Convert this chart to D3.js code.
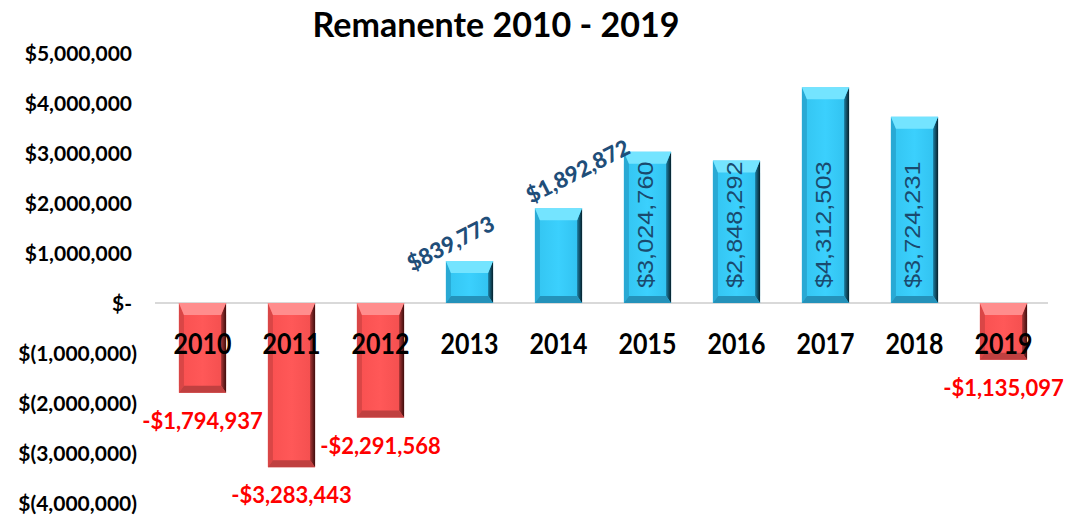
<!DOCTYPE html>
<html>
<head>
<style>
  body { margin: 0; background: #fff; }
  svg { display: block; }
  .title { font-family: Lato, "Open Sans", sans-serif; font-weight: bold; font-size: 34px; text-anchor: middle; }
  .y-axis text { font-family: Lato, sans-serif; font-weight: bold; font-size: 21px; fill: #000; }
  .year { font-family: Lato, sans-serif; font-weight: bold; font-size: 25px; text-anchor: middle; }
  .neg-label { font-family: Lato, sans-serif; font-weight: bold; font-size: 22px; fill: #ff0000; text-anchor: middle; }
  .slant-label { font-family: Lato, sans-serif; font-weight: 900; font-size: 22px; fill: #1f4e79; text-anchor: middle; }
  .in-label { font-family: "Liberation Sans", Arial, sans-serif; font-size: 22px; fill: #1a4a6e; }
</style>
</head>
<body>
<script src="https://d3js.org/d3.v7.min.js"></script>
<script>
const years = ['2010', '2011', '2012', '2013', '2014', '2015', '2016', '2017', '2018', '2019'];
const remanente = [-1794937, -3283443, -2291568, 839773, 1892872, 3024760, 2848292, 4312503, 3724231, -1135097];
const tickValues = [5000000, 4000000, 3000000, 2000000, 1000000, 0, -1000000, -2000000, -3000000, -4000000];
const title = 'Remanente 2010 - 2019';

const width = 1072, height = 520;
const data = years.map((y, i) => ({ year: y, value: remanente[i] }));

const x = d3.scaleBand()
  .domain(years)
  .range([158, 1048])
  .paddingInner(0.47)
  .paddingOuter(0.235);

const y = d3.scaleLinear()
  .domain([-4000000, 5000000])
  .range([503, 53]);

const svg = d3.select('body').append('svg')
  .attr('width', width)
  .attr('height', height);

// gradients
const defs = svg.append('defs');
function grad(id, stops) {
  const g = defs.append('linearGradient').attr('id', id)
    .attr('x1', '0%').attr('x2', '100%').attr('y1', '0%').attr('y2', '0%');
  stops.forEach(s => g.append('stop').attr('offset', s[0]).attr('stop-color', s[1]));
}
grad('blueBody', [['0%', '#33c4f0'], ['50%', '#3bd0fd'], ['100%', '#30c0ee']]);
grad('blueRight', [['0%', '#1d7fa2'], ['100%', '#061f2a']]);
grad('redBody', [['0%', '#f85050'], ['50%', '#ff5858'], ['100%', '#f24e4e']]);
grad('redRight', [['0%', '#a83636'], ['100%', '#3e0c0c']]);

const pal = {
  pos: { body: 'url(#blueBody)', top: '#74e4ff', left: '#29a9d4', right: 'url(#blueRight)', bottom: '#2492ba' },
  neg: { body: 'url(#redBody)', top: '#ff8d8d', left: '#d94646', right: 'url(#redRight)', bottom: '#c04040' }
};

svg.append('text')
  .attr('class', 'title')
  .attr('x', 496)
  .attr('y', 37)
  .text(title);

// y axis
const fmt = d3.format(',.0f');
const yAxis = d3.axisLeft(y)
  .tickValues(tickValues)
  .tickSize(0)
  .tickPadding(0)
  .tickFormat(d => d === 0 ? '$-' : d < 0 ? '$(' + fmt(-d) + ')' : '$' + fmt(d));

const ya = svg.append('g')
  .attr('class', 'y-axis')
  .attr('transform', 'translate(137,0)')
  .call(yAxis);
ya.select('.domain').remove();
ya.selectAll('text').attr('dx', d => d >= 0 ? -5 : 0).attr('dy', '0.36em');

// zero line
svg.append('line')
  .attr('x1', 155).attr('x2', 1048)
  .attr('y1', y(0)).attr('y2', y(0))
  .attr('stroke', '#d9d9d9')
  .attr('stroke-width', 2);

// bars with bevels
const bw = x.bandwidth();
const bars = svg.append('g').selectAll('g')
  .data(data)
  .join('g');

bars.each(function(d) {
  const g = d3.select(this);
  const c = d.value >= 0 ? pal.pos : pal.neg;
  const x0 = x(d.year), x1 = x0 + bw;
  const y0 = Math.min(y(0), y(d.value)), y1 = Math.max(y(0), y(d.value));
  const h = y1 - y0;
  const t = Math.min(12, h * 0.3), b = Math.min(7, h * 0.2), s = 5;
  g.append('rect').attr('x', x0).attr('y', y0).attr('width', bw).attr('height', h).attr('fill', c.body);
  const poly = (pts, fill) => g.append('polygon').attr('points', pts.map(p => p.join(',')).join(' ')).attr('fill', fill);
  poly([[x0, y0], [x0 + s, y0 + t], [x0 + s, y1 - b], [x0, y1]], c.left);
  poly([[x1, y0], [x1 - s, y0 + t], [x1 - s, y1 - b], [x1, y1]], c.right);
  poly([[x0, y0], [x1, y0], [x1 - s, y0 + t], [x0 + s, y0 + t]], c.top);
  poly([[x0, y1], [x1, y1], [x1 - s, y1 - b], [x0 + s, y1 - b]], c.bottom);
});

// year labels
svg.append('g').selectAll('text')
  .data(years)
  .join('text')
  .attr('class', 'year')
  .attr('transform', d => `translate(${x(d) + bw / 2},${y(0) + 51}) scale(1,1.12)`)
  .text(d => d);

// value labels
const money = v => (v < 0 ? '-' : '') + '$' + fmt(Math.abs(v));
const cx = d => x(d.year) + bw / 2;

svg.append('g').selectAll('text')
  .data(data.filter(d => d.value < 0))
  .join('text')
  .attr('class', 'neg-label')
  .attr('x', cx)
  .attr('y', d => y(d.value) + 36)
  .text(d => money(d.value));

// short positive bars: slanted labels above, nudged apart along their baseline
const angle = 27;
const slant = svg.append('g').selectAll('text')
  .data(data.filter(d => d.value >= 0 && y(0) - y(d.value) < 130))
  .join('text')
  .attr('class', 'slant-label')
  .attr('transform', d => `translate(${cx(d)},${y(d.value) - 28}) rotate(${-angle})`)
  .attr('dominant-baseline', 'central')
  .text(d => money(d.value));

const cos = Math.cos(angle * Math.PI / 180);
const items = slant.nodes().map(n => ({ node: n, c: cx(d3.select(n).datum()), w: n.getComputedTextLength() * cos, dx: 0 }));
const gap = 35;
for (let i = 0; i < items.length - 1; i++) {
  const a = items[i], b = items[i + 1];
  const need = (a.w + b.w) / 2 + gap;
  const have = (b.c + b.dx * cos) - (a.c + a.dx * cos);
  if (have < need) {
    const push = (need - have) / 2 / cos;
    a.dx -= push;
    b.dx += push;
  }
}
items.forEach(it => d3.select(it.node).attr('dx', it.dx));

// tall positive bars: vertical labels inside, from the base
svg.append('g').selectAll('text')
  .data(data.filter(d => d.value >= 0 && y(0) - y(d.value) >= 130))
  .join('text')
  .attr('class', 'in-label')
  .attr('transform', d => `translate(${cx(d) - 2},${y(0) - 15}) rotate(-90) scale(1.15,1)`)
  .attr('dominant-baseline', 'central')
  .text(d => money(d.value));
</script>
</body>
</html>
